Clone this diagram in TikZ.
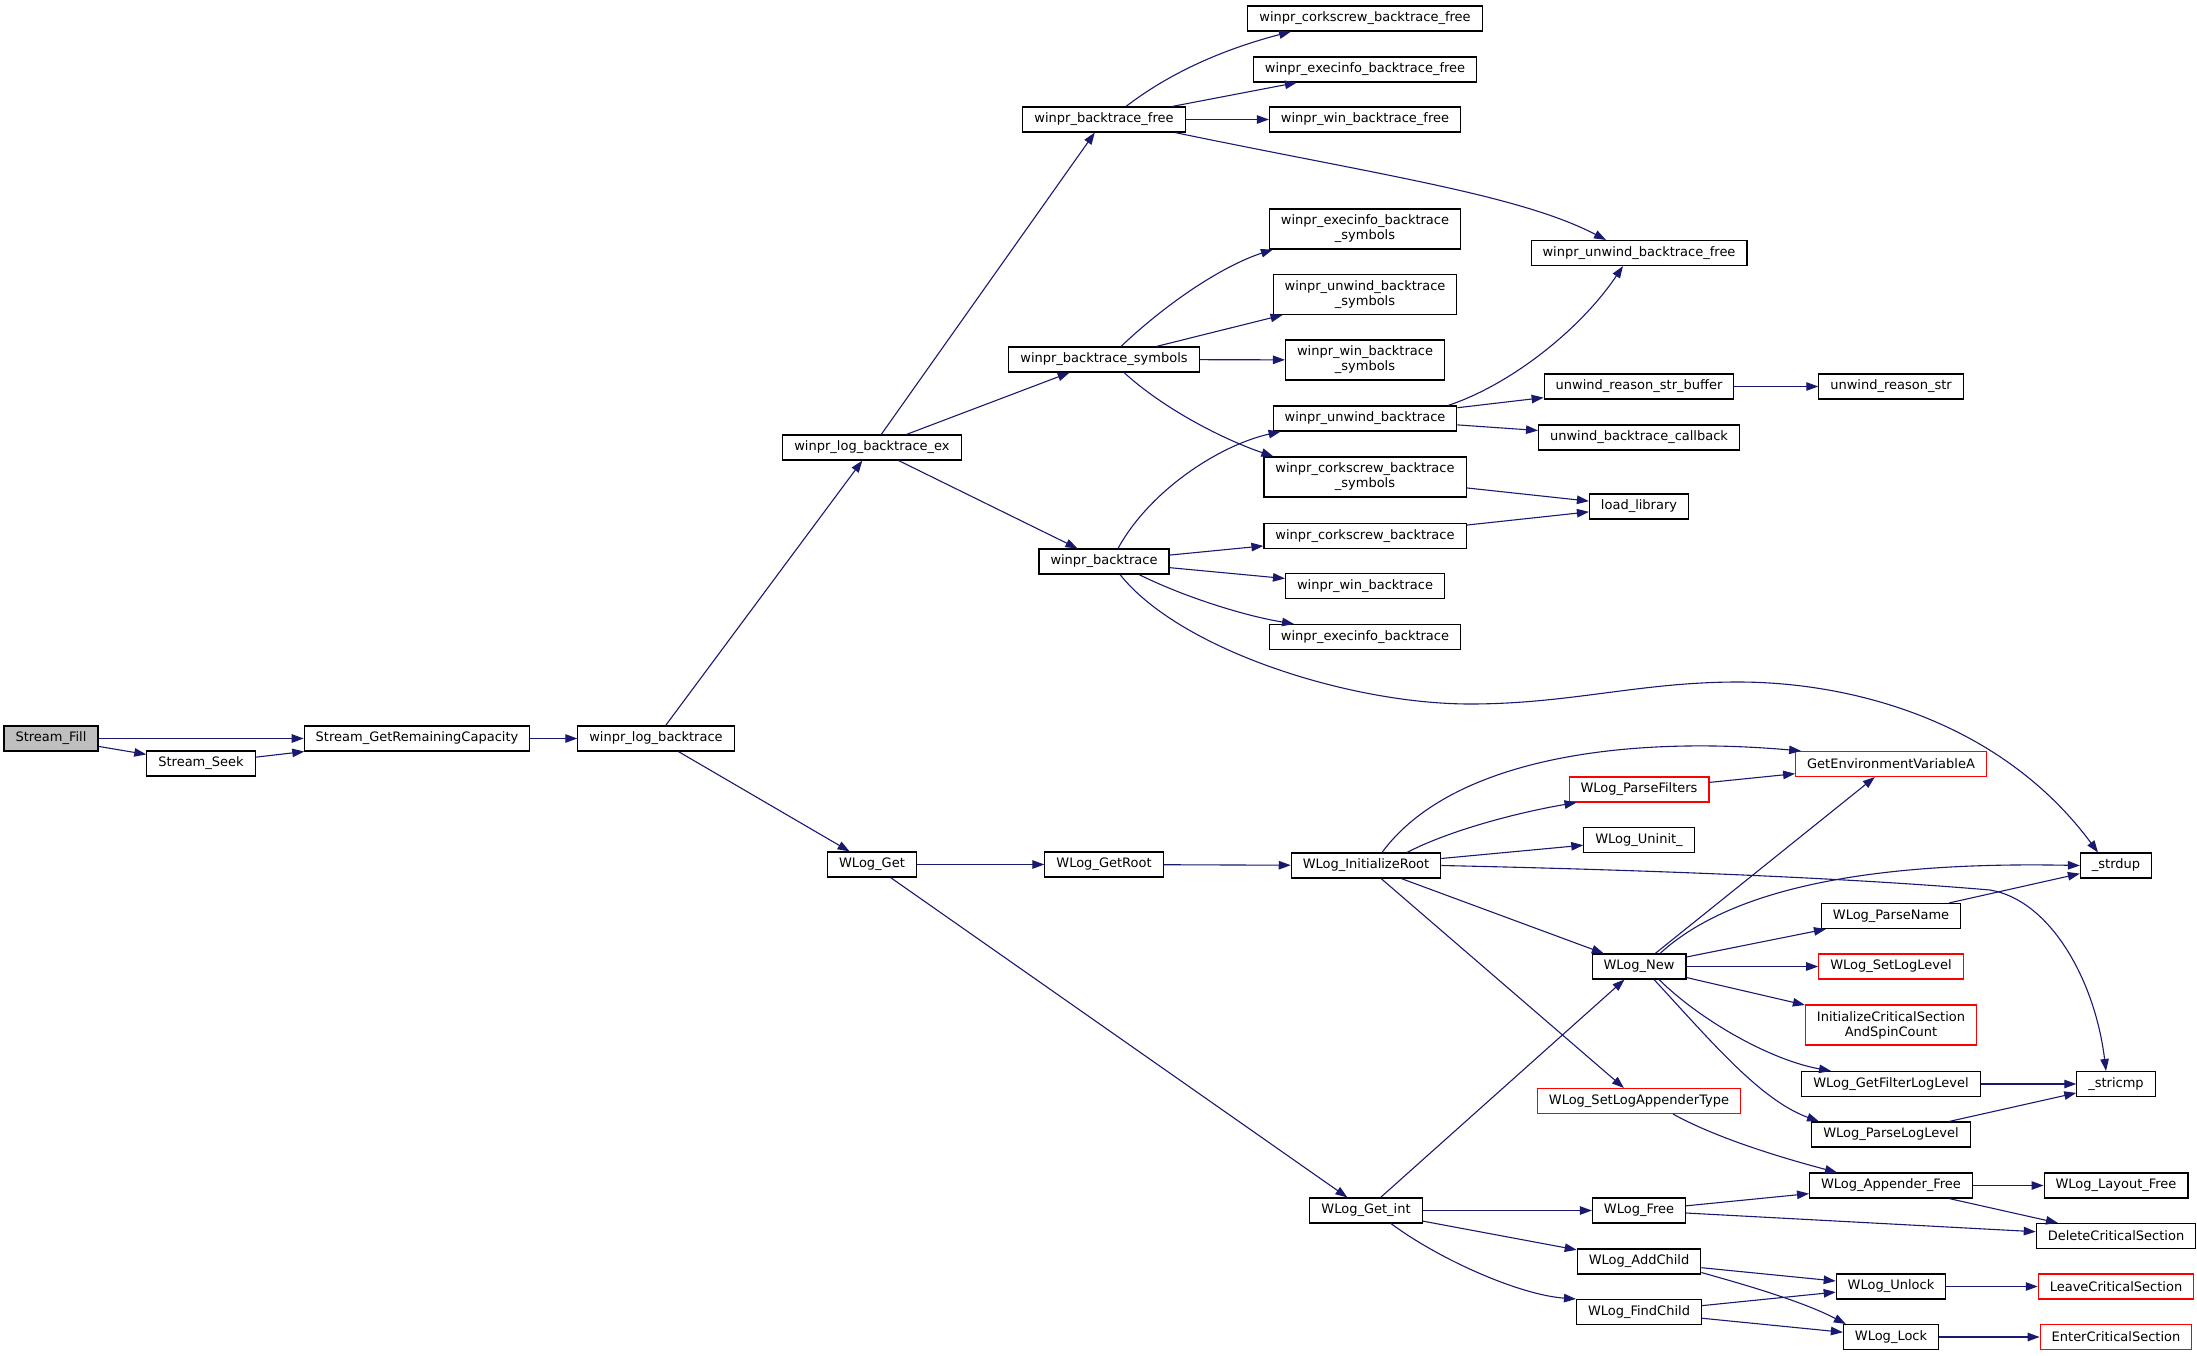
\documentclass[tikz,border=0pt]{standalone}
\usepackage{fontspec}
\setmainfont{DejaVu Sans}
\usetikzlibrary{arrows.meta}
\definecolor{callblue}{RGB}{25,25,112}
\definecolor{rootgray}{RGB}{191,191,191}
\definecolor{extred}{RGB}{255,0,0}
\tikzset{
    fn/.style={draw=black, line width=1.1pt, fill=white, minimum height=25pt, inner xsep=11.5pt, inner ysep=0pt, align=center, font=\fontsize{13}{15}\selectfont},
    fntall/.style={fn, minimum height=40pt},
    fnext/.style={fn, draw=extred},
    fnroot/.style={fn, fill=rootgray},
    call/.style={draw=callblue, line width=1.1pt, -{Triangle[length=12pt,width=8.5pt]}}
}

\begin{document}
\begin{tikzpicture}[x=1pt, y=-1pt]
    \useasboundingbox (0,0) rectangle (2197,1356);

    % Stream side
    \node[fnroot] (sfill) at (51,738.5) {Stream\_Fill};
    \node[fn] (sseek) at (201,763.5) {Stream\_Seek};
    \node[fn] (grc) at (417,738.5) {Stream\_GetRemainingCapacity};
    \node[fn] (logbt) at (656,738.5) {winpr\_log\_backtrace};
    \node[fn] (logbtex) at (872,447.5) {winpr\_log\_backtrace\_ex};
    \node[fn] (wlget) at (872,864.5) {WLog\_Get};

    % winpr backtrace
    \node[fn] (btfree) at (1104,119.5) {winpr\_backtrace\_free};
    \node[fn] (btsym) at (1104,359.5) {winpr\_backtrace\_symbols};
    \node[fn] (winprbt) at (1104,561.5) {winpr\_backtrace};
    \node[fn] (getroot) at (1104,864.5) {WLog\_GetRoot};

    \node[fn] (ckfree) at (1365,18.5) {winpr\_corkscrew\_backtrace\_free};
    \node[fn] (exfree) at (1365,69.5) {winpr\_execinfo\_backtrace\_free};
    \node[fn] (winfree) at (1365,119.5) {winpr\_win\_backtrace\_free};
    \node[fntall] (exsym) at (1365,229) {winpr\_execinfo\_backtrace\\\_symbols};
    \node[fntall] (unsym) at (1365,294.5) {winpr\_unwind\_backtrace\\\_symbols};
    \node[fntall] (winsym) at (1365,360) {winpr\_win\_backtrace\\\_symbols};
    \node[fn] (unbt) at (1365,418.5) {winpr\_unwind\_backtrace};
    \node[fntall] (cksym) at (1365,477) {winpr\_corkscrew\_backtrace\\\_symbols};
    \node[fn] (ckbt) at (1365,536) {winpr\_corkscrew\_backtrace};
    \node[fn] (winbt) at (1365,586) {winpr\_win\_backtrace};
    \node[fn] (exbt) at (1365,637) {winpr\_execinfo\_backtrace};

    \node[fn] (unfree) at (1639,253) {winpr\_unwind\_backtrace\_free};
    \node[fn] (reasonbuf) at (1639,386.5) {unwind\_reason\_str\_buffer};
    \node[fn] (unwindcb) at (1639,437.5) {unwind\_backtrace\_callback};
    \node[fn] (loadlib) at (1639,506.5) {load\_library};
    \node[fn] (reasonstr) at (1891,386.5) {unwind\_reason\_str};

    % WLog
    \node[fn] (initroot) at (1366,865.5) {WLog\_InitializeRoot};
    \node[fn] (getint) at (1366,1210.5) {WLog\_Get\_int};

    \node[fnext] (parsefilters) at (1639,789.5) {WLog\_ParseFilters};
    \node[fn] (uninit) at (1639,840) {WLog\_Uninit\_};
    \node[fn] (wlnew) at (1639,966.5) {WLog\_New};
    \node[fnext] (setappender) at (1639,1101) {WLog\_SetLogAppenderType};
    \node[fn] (wlfree) at (1639,1210.5) {WLog\_Free};
    \node[fn] (addchild) at (1639,1261.5) {WLog\_AddChild};
    \node[fn] (findchild) at (1639,1312) {WLog\_FindChild};

    \node[fnext] (getenv) at (1891,764) {GetEnvironmentVariableA};
    \node[fn] (parsename) at (1891,916) {WLog\_ParseName};
    \node[fnext] (setloglevel) at (1891,966.5) {WLog\_SetLogLevel};
    \node[fntall, draw=extred] (initcs) at (1891,1025) {InitializeCriticalSection\\AndSpinCount};
    \node[fn] (getfilter) at (1891,1084) {WLog\_GetFilterLogLevel};
    \node[fn] (parseloglevel) at (1891,1134.5) {WLog\_ParseLogLevel};
    \node[fn] (appfree) at (1891,1185.5) {WLog\_Appender\_Free};
    \node[fn] (unlock) at (1891,1286.5) {WLog\_Unlock};
    \node[fn] (lock) at (1891,1337) {WLog\_Lock};

    \node[fn] (strdup) at (2116,865.5) {\_strdup};
    \node[fn] (stricmp) at (2116,1084) {\_stricmp};
    \node[fn] (layoutfree) at (2116,1185.5) {WLog\_Layout\_Free};
    \node[fn] (deletecs) at (2116,1236) {DeleteCriticalSection};
    \node[fnext] (leavecs) at (2116,1286.5) {LeaveCriticalSection};
    \node[fnext] (entercs) at (2116,1337) {EnterCriticalSection};

    % calls
    \draw[call] (sfill) -- (grc);
    \draw[call] (sfill) -- (sseek);
    \draw[call] (sseek) -- (grc);
    \draw[call] (grc) -- (logbt);
    \draw[call] (logbt) -- (logbtex);
    \draw[call] (logbt) -- (wlget);
    \draw[call] (logbtex) -- (btfree);
    \draw[call] (logbtex) -- (btsym);
    \draw[call] (logbtex) -- (winprbt);

    \draw[call] ([xshift=22pt]btfree.north) .. controls (1180,65) and (1240,45) .. ([xshift=-74pt]ckfree.south);
    \draw[call] (btfree) -- (exfree);
    \draw[call] (btfree) -- (winfree);
    \draw[call] ([xshift=71pt]btfree.south) .. controls (1380,175) and (1520,195) .. ([xshift=-33pt]unfree.north);

    \draw[call] ([xshift=17pt]btsym.north) .. controls (1170,300) and (1225,265) .. ([xshift=4pt]exsym.south west);
    \draw[call] (btsym) -- (unsym);
    \draw[call] (btsym) -- (winsym);
    \draw[call] ([xshift=20pt]btsym.south) .. controls (1165,410) and (1225,440) .. ([xshift=10pt]cksym.north west);

    \draw[call] ([xshift=14pt]winprbt.north) .. controls (1150,490) and (1220,445) .. ([xshift=8pt]unbt.south west);
    \draw[call] (winprbt) -- (ckbt);
    \draw[call] (winprbt) -- (winbt);
    \draw[call] ([xshift=35pt]winprbt.south) .. controls (1180,595) and (1240,615) .. ([xshift=-71pt]exbt.north);
    \draw[call] ([xshift=16pt]winprbt.south) .. controls (1180,650) and (1350,704) .. (1470,704)
        .. controls (1570,704) and (1640,682) .. (1738,682)
        .. controls (1850,682) and (2000,720) .. ([xshift=-18pt]strdup.north);

    \draw[call] ([xshift=83pt]unbt.north) .. controls (1510,385) and (1580,330) .. ([xshift=-16pt]unfree.south);
    \draw[call] (unbt) -- (reasonbuf);
    \draw[call] (unbt) -- (unwindcb);
    \draw[call] (reasonbuf) -- (reasonstr);
    \draw[call] (cksym) -- (loadlib);
    \draw[call] (ckbt) -- (loadlib);

    \draw[call] (wlget) -- (getroot);
    \draw[call] (wlget) -- (getint);
    \draw[call] (getroot) -- (initroot);

    \draw[call] ([xshift=16pt]initroot.north) .. controls (1450,760) and (1620,735) .. ([xshift=6pt]getenv.north west);
    \draw[call] ([xshift=41pt]initroot.north) .. controls (1450,830) and (1520,812) .. ([xshift=8pt]parsefilters.south west);
    \draw[call] (initroot) -- (uninit);
    \draw[call] (initroot.east) .. controls (1650,870) and (1850,878) .. (1990,890)
        .. controls (2050,900) and (2095,980) .. ([xshift=-10pt]stricmp.north);
    \draw[call] (initroot) -- (wlnew);
    \draw[call] (initroot) -- (setappender);
    \draw[call] (parsefilters) -- (getenv);

    \draw[call] (wlnew) -- (getenv);
    \draw[call] ([xshift=21pt]wlnew.north) .. controls (1740,880) and (1900,862) .. (strdup.west);
    \draw[call] (wlnew) -- (parsename);
    \draw[call] (wlnew) -- (setloglevel);
    \draw[call] (wlnew) -- (initcs);
    \draw[call] ([xshift=20pt]wlnew.south) .. controls (1700,1020) and (1770,1060) .. ([xshift=-60pt]getfilter.north);
    \draw[call] ([xshift=15pt]wlnew.south) .. controls (1710,1040) and (1760,1100) .. ([xshift=-72pt]parseloglevel.north);
    \draw[call] (parsename) -- (strdup);
    \draw[call] (getfilter) -- (stricmp);
    \draw[call] (parseloglevel) -- (stricmp);
    \draw[call] ([xshift=34pt]setappender.south) .. controls (1720,1140) and (1790,1160) .. ([xshift=-54pt]appfree.north);

    \draw[call] (getint) -- (wlnew);
    \draw[call] (getint) -- (wlfree);
    \draw[call] (getint) -- (addchild);
    \draw[call] ([xshift=25pt]getint.south) .. controls (1440,1260) and (1520,1295) .. (findchild.north west);
    \draw[call] (wlfree) -- (appfree);
    \draw[call] (wlfree) -- (deletecs);
    \draw[call] (appfree) -- (layoutfree);
    \draw[call] (appfree) -- (deletecs);
    \draw[call] (addchild) -- (unlock);
    \draw[call] ([yshift=-11pt]addchild.east) .. controls (1735,1282) and (1800,1300) .. ([xshift=3pt]lock.north west);
    \draw[call] (findchild) -- (unlock);
    \draw[call] (findchild) -- (lock);
    \draw[call] (unlock) -- (leavecs);
    \draw[call] (lock) -- (entercs);
\end{tikzpicture}
\end{document}
